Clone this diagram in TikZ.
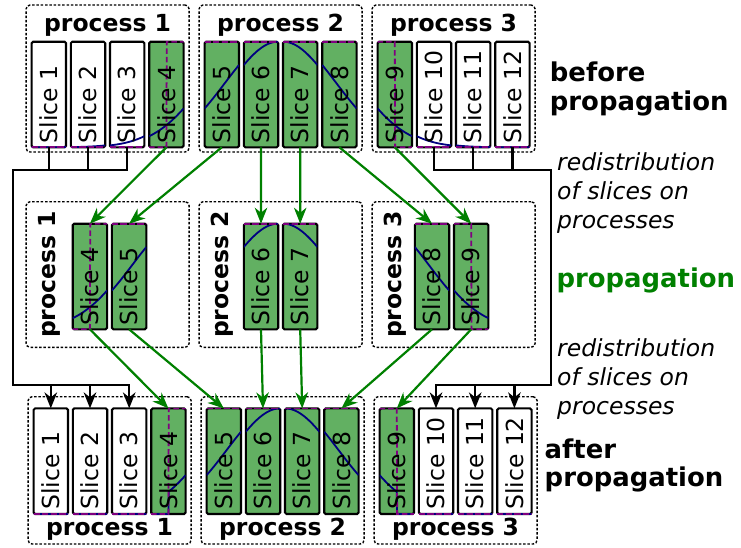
\documentclass[tikz,border=0pt]{standalone}
\usepackage{fontspec}
\setmainfont{DejaVu Sans}
\usepackage{tikz}
\usetikzlibrary{arrows.meta, positioning, calc}
\definecolor{mygreen}{RGB}{0,128,0}
\definecolor{hdrgreen}{RGB}{98,176,98}
\definecolor{mynavy}{RGB}{0,0,128}
\definecolor{mypurple}{RGB}{128,0,128}
\newcommand{\bigfont}{\fontsize{23.5pt}{29pt}\selectfont}
\newcommand{\sidefont}{\fontsize{25.9pt}{28.4pt}\selectfont}
% pulse over the slice index, window and windowed pulse
\pgfmathdeclarefunction{gauss}{1}{\pgfmathparse{exp(-(((#1)-6)^2)/4)}}
\pgfmathdeclarefunction{win}{1}{\pgfmathparse{((#1)>3.5)*((#1)<8.5)}}
\pgfmathdeclarefunction{wgauss}{1}{\pgfmathparse{exp(-(((#1)-6)^2)/4)*((#1)>3.5)*((#1)<8.5)}}
\tikzset{
  sliceblock/.style={rectangle, draw=black, fill=white, minimum width=34.4pt,
    minimum height=105.6pt, inner sep=0pt, outer sep=0pt,
    rounded corners=1.5pt, line width=2.1pt},
  greenslice/.style={sliceblock, fill=hdrgreen},
  slicelabel/.style={rotate=90, anchor=west, inner sep=4pt, font=\bigfont},
  procbox/.style={rectangle, draw=black, dash pattern=on 2.5pt off 1.8pt,
    line width=1.4pt, rounded corners=4pt, inner sep=0pt, outer sep=0pt},
  proclabel/.style={font=\bigfont\bfseries, inner sep=0pt},
  note/.style={font=\bigfont\itshape, align=left, inner sep=0pt, anchor=north west},
  stage/.style={font=\sidefont\bfseries, align=left, inner sep=0pt},
  wave/.style={draw=mynavy, line width=1.8pt},
  windowline/.style={draw=mypurple, line width=1.8pt, dash pattern=on 5.5pt off 3pt},
  arrow/.style={-{Stealth[length=16pt, width=12.5pt, inset=5pt]}, line width=2.2pt, color=black},
  greenarrow/.style={arrow, color=mygreen},
  line/.style={line width=2.2pt, color=black}
}
% #1 style, #2 name, #3 left, #4 bottom, #5 slice number, #6 profile
\newcommand{\drawslice}[6]{%
  \node[#1, anchor=south west] (#2) at (#3,#4) {};
  \begin{scope}
    \clip (#2.south west) rectangle (#2.north east);
    \draw[wave] plot[domain=0:1, samples=101] ({#3+34.4*\x}, {#4-105.6*#6(#5-1+\x)});
    \draw[windowline] plot[domain=0:1, samples=101] ({#3+34.4*\x}, {#4-105.6*win(#5-1+\x)});
  \end{scope}
  \node[slicelabel] at (#2.south) {Slice #5};
}

\begin{document}
\begin{tikzpicture}[x=1pt, y=-1pt]
  \useasboundingbox (0,0) rectangle (741,547);

  % process frames
  \foreach \i/\bx in {1/26.1, 2/199.1, 3/372.1} {
    \node[procbox, minimum width=163pt, minimum height=147pt, anchor=north west] (top\i) at (\bx,5) {};
    \node[proclabel, anchor=base] (toplbl\i) at ($(top\i.north)+(0,26.5)$) {process \i};
    \node[procbox, minimum width=163pt, minimum height=145.6pt, anchor=north west] (mid\i) at (\bx,201.7) {};
    \node[proclabel, rotate=90, anchor=base] (midlbl\i) at ($(mid\i.west)+(29.5,0)$) {process \i};
    \node[procbox, minimum width=163pt, minimum height=147.3pt, anchor=north west] (bot\i) at (\bx+2,396.7) {};
    \node[proclabel, anchor=base] (botlbl\i) at ($(bot\i.south)+(0,-8.3)$) {process \i};
  }

  % before propagation
  \foreach \k in {1,2,3,10,11,12} {
    \pgfmathsetmacro\sx{31.6+39.2*(\k-1)+16.2*floor((\k-1)/4)}
    \drawslice{sliceblock}{t\k}{\sx}{147.3}{\k}{gauss}
  }
  \foreach \k in {4,...,9} {
    \pgfmathsetmacro\sx{31.6+39.2*(\k-1)+16.2*floor((\k-1)/4)}
    \drawslice{greenslice}{t\k}{\sx}{147.3}{\k}{gauss}
  }

  % redistributed slices
  \foreach \k/\sx in {4/72.7, 5/111.9, 6/243.8, 7/283.0, 8/414.8, 9/454.0} {
    \drawslice{greenslice}{m\k}{\sx}{329.3}{\k}{gauss}
  }

  % after propagation
  \foreach \k in {1,2,3,10,11,12} {
    \pgfmathsetmacro\sx{33.6+39.2*(\k-1)+16.2*floor((\k-1)/4)}
    \drawslice{sliceblock}{b\k}{\sx}{514}{\k}{wgauss}
  }
  \foreach \k in {4,...,9} {
    \pgfmathsetmacro\sx{33.6+39.2*(\k-1)+16.2*floor((\k-1)/4)}
    \drawslice{greenslice}{b\k}{\sx}{514}{\k}{wgauss}
  }

  % untouched slices go around
  \coordinate (jl) at (12.7,170);
  \coordinate (kl) at (12.7,385);
  \coordinate (jr) at (551,170);
  \coordinate (kr) at (551,385);
  \draw[line] (t1.south) -- (t1.south |- jl);
  \draw[line] (t2.south) -- (t2.south |- jl);
  \draw[arrow] (t3.south) |- (jl) -- (kl) -| (b3.north);
  \draw[arrow] (b1.north |- kl) -- (b1.north);
  \draw[arrow] (b2.north |- kl) -- (b2.north);
  \draw[line] (t11.south) -- (t11.south |- jr);
  \draw[line] (t12.south) -- (t12.south |- jr);
  \draw[arrow] (t10.south) |- (jr) -- (kr) -| (b10.north);
  \draw[arrow] (b11.north |- kr) -- (b11.north);
  \draw[arrow] (b12.north |- kr) -- (b12.north);

  % slices that take part in the propagation
  \foreach \k in {4,...,9} {
    \draw[greenarrow] (t\k.south) -- (m\k.north);
    \draw[greenarrow] (m\k.south) -- (b\k.north);
  }

  % stage labels
  \node[stage, anchor=north west] (before) at (549.7,62) {before\\propagation};
  \node[note] (redist1) at (557,152.1) {redistribution\\of slices on\\processes};
  \node[stage, anchor=base west, text=mygreen] (prop) at (556.3,287.5) {propagation};
  \node[note] (redist2) at (557,338.1) {redistribution\\of slices on\\processes};
  \node[stage, anchor=north west] (after) at (544.5,438.6) {after\\propagation};
\end{tikzpicture}
\end{document}
